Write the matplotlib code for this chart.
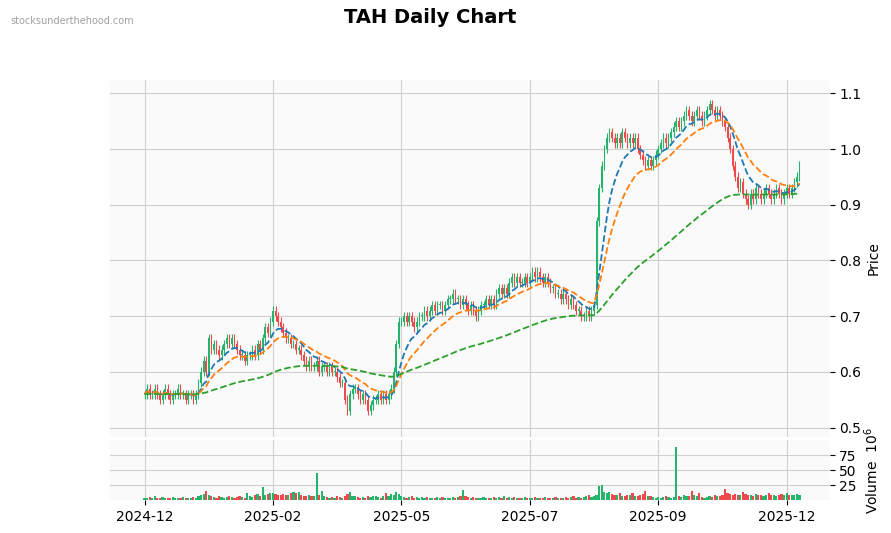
import numpy as np
import pandas as pd
import matplotlib
matplotlib.use("Agg")
import matplotlib.pyplot as plt

# daily closes, Dec 2024 - Dec 2025
closes = [
    0.56, 0.57, 0.56, 0.56, 0.57, 0.56, 0.55, 0.56, 0.57, 0.56,
    0.55, 0.56, 0.56, 0.57, 0.56, 0.56, 0.55, 0.56, 0.56, 0.55,
    0.56, 0.58, 0.60, 0.62, 0.60, 0.66, 0.64, 0.65, 0.64, 0.63,
    0.64, 0.65, 0.66, 0.65, 0.66, 0.65, 0.64, 0.63, 0.63, 0.62,
    0.63, 0.63, 0.64, 0.63, 0.65, 0.64, 0.66, 0.68, 0.67, 0.69,
    0.71, 0.70, 0.69, 0.68, 0.67, 0.66, 0.66, 0.65, 0.65, 0.64,
    0.64, 0.63, 0.62, 0.61, 0.62, 0.61, 0.61, 0.62, 0.60, 0.61,
    0.61, 0.60, 0.61, 0.60, 0.60, 0.59, 0.58, 0.58, 0.55, 0.53,
    0.56, 0.57, 0.57, 0.56, 0.55, 0.56, 0.55, 0.53, 0.54, 0.55,
    0.55, 0.56, 0.55, 0.56, 0.55, 0.56, 0.57, 0.60, 0.65, 0.69,
    0.69, 0.70, 0.69, 0.70, 0.69, 0.68, 0.69, 0.70, 0.70, 0.71,
    0.70, 0.71, 0.72, 0.71, 0.72, 0.72, 0.71, 0.72, 0.73, 0.73,
    0.74, 0.73, 0.73, 0.72, 0.73, 0.72, 0.71, 0.72, 0.71, 0.70,
    0.71, 0.72, 0.72, 0.73, 0.72, 0.73, 0.72, 0.74, 0.75, 0.74,
    0.75, 0.74, 0.76, 0.77, 0.76, 0.77, 0.76, 0.76, 0.77, 0.76,
    0.77, 0.78, 0.77, 0.78, 0.77, 0.76, 0.77, 0.76, 0.75, 0.75,
    0.74, 0.74, 0.73, 0.74, 0.73, 0.72, 0.73, 0.72, 0.71, 0.71,
    0.70, 0.70, 0.71, 0.70, 0.71, 0.72, 0.87, 0.93, 0.97, 1.00,
    1.02, 1.03, 1.02, 1.01, 1.02, 1.01, 1.03, 1.02, 1.01, 1.02,
    1.01, 1.02, 1.00, 0.99, 0.98, 0.97, 0.98, 0.97, 0.98, 0.99,
    1.00, 1.01, 1.02, 1.01, 1.02, 1.03, 1.04, 1.05, 1.04, 1.05,
    1.06, 1.07, 1.06, 1.05, 1.06, 1.07, 1.06, 1.05, 1.06, 1.07,
    1.08, 1.07, 1.06, 1.07, 1.06, 1.05, 1.04, 1.02, 1.00, 0.97,
    0.95, 0.93, 0.94, 0.92, 0.91, 0.90, 0.92, 0.91, 0.93, 0.92,
    0.91, 0.92, 0.93, 0.92, 0.91, 0.92, 0.93, 0.92, 0.91, 0.92,
    0.93, 0.92, 0.93, 0.94, 0.95, 0.97,
]

# daily volume, millions
volumes = [
    3, 4, 5, 4, 6, 3, 4, 5, 4, 3,
    4, 5, 3, 4, 3, 5, 4, 3, 4, 5,
    4, 6, 8, 10, 15, 9, 6, 5, 4, 6,
    5, 4, 5, 6, 5, 4, 5, 6, 5, 4,
    12, 6, 5, 8, 10, 6, 22, 9, 10, 11,
    12, 10, 9, 8, 10, 9, 8, 11, 14, 12,
    14, 9, 6, 7, 8, 7, 6, 45, 9, 15,
    6, 5, 4, 5, 4, 6, 5, 4, 6, 10,
    14, 7, 6, 5, 4, 5, 4, 6, 5, 7,
    6, 5, 4, 6, 12, 7, 10, 9, 14, 10,
    6, 5, 4, 5, 6, 4, 5, 4, 5, 4,
    5, 4, 3, 4, 5, 4, 5, 4, 3, 4,
    5, 4, 5, 6, 16, 6, 5, 4, 5, 4,
    3, 4, 5, 4, 3, 4, 5, 4, 5, 4,
    6, 4, 5, 4, 5, 4, 3, 4, 5, 4,
    3, 4, 5, 4, 3, 4, 5, 4, 3, 4,
    5, 4, 3, 4, 5, 4, 5, 6, 4, 5,
    4, 5, 6, 8, 5, 6, 9, 24, 25, 14,
    12, 13, 10, 9, 8, 12, 7, 6, 8, 9,
    12, 7, 6, 8, 10, 15, 7, 6, 5, 4,
    5, 4, 5, 6, 5, 4, 5, 88, 6, 5,
    8, 7, 6, 15, 8, 6, 12, 5, 4, 5,
    6, 5, 8, 7, 6, 9, 18, 12, 10, 8,
    10, 9, 8, 14, 10, 9, 8, 7, 10, 9,
    8, 7, 9, 12, 8, 9, 7, 8, 10, 9,
    12, 8, 9, 8, 10, 9,
]

tick_idx = [0, 50, 100, 150, 200, 250]
tick_labels = ["2024-12", "2025-02", "2025-05", "2025-07", "2025-09", "2025-12"]

c = pd.Series(closes)
o = c.shift(1).fillna(c.iloc[0])
hi = np.maximum(o, c) + 0.008
lo = np.minimum(o, c) - 0.008
up = c >= o
x = np.arange(len(c))

UP, DOWN = "#26b36b", "#f0494b"
colors = np.where(up, UP, DOWN)

fig = plt.figure(figsize=(8.91, 5.33), dpi=100)
ax = fig.add_axes([0.123, 0.180, 0.808, 0.670])
axv = fig.add_axes([0.123, 0.062, 0.808, 0.112], sharex=ax)

for a in (ax, axv):
    a.set_facecolor("#fafafa")
    a.grid(True, color="#d0d0d0", linewidth=0.8)
    a.set_axisbelow(True)
    for s in a.spines.values():
        s.set_visible(False)
    a.yaxis.tick_right()
    a.yaxis.set_label_position("right")

# candles
ax.vlines(x, lo, hi, colors=colors, linewidth=0.8)
ax.bar(x, (c - o).abs().clip(lower=0.002), bottom=np.minimum(o, c),
       width=0.6, color=colors, linewidth=0)

# moving averages
ax.plot(x, c.ewm(span=10).mean(), "--", color="#1f77b4", lw=1.3)
ax.plot(x, c.ewm(span=20).mean(), "--", color="#ff7f0e", lw=1.3)
ax.plot(x, c.ewm(span=100, adjust=False).mean(), "--", color="#2ca02c", lw=1.3)

ax.set_ylim(0.483, 1.124)
ax.set_yticks([0.5, 0.6, 0.7, 0.8, 0.9, 1.0, 1.1])
ax.set_ylabel("Price")
ax.tick_params(axis="x", labelbottom=False, length=0)
ax.set_xlim(-13.6, 266.7)

axv.bar(x, volumes, width=0.85, color=colors, linewidth=0)
axv.set_ylim(0, 100)
axv.set_yticks([25, 50, 75])
axv.set_ylabel("Volume  $10^6$")
axv.set_xticks(tick_idx)
axv.set_xticklabels(tick_labels)
axv.tick_params(axis="x", labelsize=10)

fig.suptitle("TAH Daily Chart", x=0.483, y=0.985, fontsize=14, fontweight="bold")
fig.text(0.012, 0.955, "stocksunderthehood.com", fontsize=7, color="#a0a0a0")

fig.savefig("out.png", dpi=100)
